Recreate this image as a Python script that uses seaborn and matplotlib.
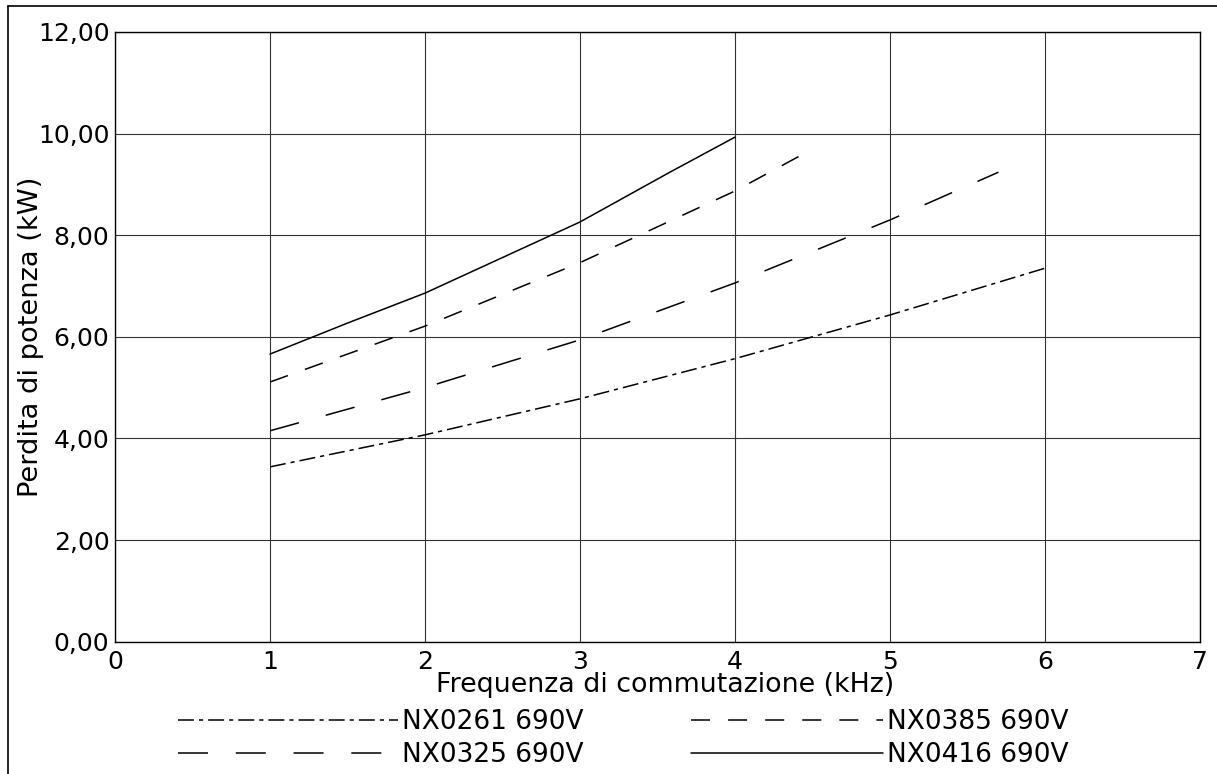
import matplotlib
matplotlib.use("Agg")
import matplotlib.pyplot as plt
import seaborn as sns
from matplotlib.ticker import FuncFormatter, MultipleLocator
from matplotlib.lines import Line2D

# ==============================
# Data
# ==============================
freq_0261 = [1, 2, 3, 4, 5, 6]
loss_0261 = [3.44, 4.07, 4.78, 5.57, 6.43, 7.35]

freq_0325 = [1, 2, 3, 4, 5, 5.7]
loss_0325 = [4.15, 5.00, 5.94, 7.06, 8.30, 9.24]

freq_0385 = [1, 2, 3, 4, 4.43]
loss_0385 = [5.11, 6.21, 7.46, 8.87, 9.58]

freq_0416 = [1, 1.5, 2, 3, 3.58, 4]
loss_0416 = [5.66, 6.27, 6.86, 8.26, 9.24, 9.93]

labels = ["NX0261 690V", "NX0325 690V", "NX0385 690V", "NX0416 690V"]

sns.set_style("white")
plt.rcParams['font.family'] = ['DejaVu Sans']
plt.rcParams['lines.scale_dashes'] = False
plt.rcParams['text.color'] = 'black'
plt.rcParams['axes.labelcolor'] = 'black'

fig = plt.figure(figsize=(12.17, 7.74), dpi=100)
ax = fig.add_axes([0.0945, 0.171, 0.8915, 0.7877])

styles = [
    (0, (11.5, 3.6, 3, 3.6)),   # dash-dot
    (0, (21.6, 20)),            # long dash
    (0, (13.7, 13)),            # short dash
    "-",                        # solid
]
series = [
    (freq_0261, loss_0261),
    (freq_0325, loss_0325),
    (freq_0385, loss_0385),
    (freq_0416, loss_0416),
]

for (xs, ys), lab, ls in zip(series, labels, styles):
    sns.lineplot(x=xs, y=ys, ax=ax, color="black", linewidth=1.1,
                 linestyle=ls, label=lab, sort=False, zorder=3)

ax.set_xlim(0, 7)
ax.set_ylim(0, 12)
ax.xaxis.set_major_locator(MultipleLocator(1))
ax.yaxis.set_major_locator(MultipleLocator(2))
ax.yaxis.set_major_formatter(FuncFormatter(lambda v, p: f"{v:.2f}".replace(".", ",")))
ax.grid(True, color="#333333", linewidth=0.8)
for sp in ax.spines.values():
    sp.set_color("black")
    sp.set_linewidth(1.0)
ax.tick_params(axis="both", labelsize=18, length=3, width=0.8,
               color="black", labelcolor="black")
ax.tick_params(axis="x", pad=3)
ax.tick_params(axis="y", pad=1)
ax.set_xlabel("Frequenza di commutazione (kHz)", fontsize=19.4)
ax.xaxis.set_label_coords(0.507, -0.049)
ax.set_ylabel("Perdita di potenza (kW)", fontsize=19.6)
ax.yaxis.set_label_coords(-0.0654, 0.5)

# legend: two columns drawn as two legends (different handle lengths)
handles, labs = ax.get_legend_handles_labels()
ax.get_legend().remove()
leg_kw = dict(loc="upper left", bbox_transform=fig.transFigure, frameon=False,
              fontsize=19, handletextpad=0.15, labelspacing=0.28,
              borderaxespad=0, borderpad=0)
leg1 = ax.legend(handles[:2], labs[:2], bbox_to_anchor=(178 / 1217, 1 - 709 / 774),
                 handlelength=8.33, **leg_kw)
ax.add_artist(leg1)
ax.legend(handles[2:], labs[2:], bbox_to_anchor=(691 / 1217, 1 - 709 / 774),
          handlelength=7.27, **leg_kw)

# page frame lines (left and top)
fig.add_artist(Line2D([8 / 1217, 8 / 1217], [0, 1 - 6 / 774], transform=fig.transFigure,
                      color="black", linewidth=1.2))
fig.add_artist(Line2D([8 / 1217, 1], [1 - 6 / 774, 1 - 6 / 774], transform=fig.transFigure,
                      color="black", linewidth=1.2))

fig.savefig("out.png", dpi=100)
